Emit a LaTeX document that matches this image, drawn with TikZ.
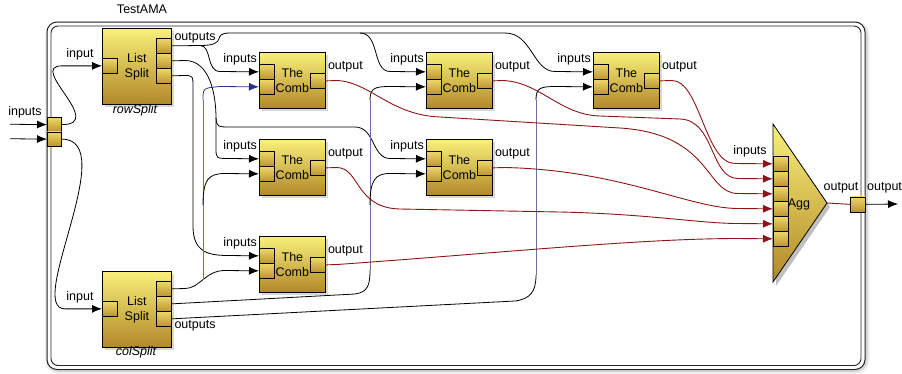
\documentclass[tikz,border=0pt]{standalone}
\usepackage{fontspec}
\setmainfont{Liberation Sans}
\usetikzlibrary{shadows,arrows.meta,calc}
\definecolor{blockTop}{RGB}{248,240,122}
\definecolor{blockBot}{RGB}{178,136,40}
\definecolor{portTop}{RGB}{238,216,104}
\definecolor{portBot}{RGB}{188,148,48}
\definecolor{wireRed}{RGB}{140,22,22}
\definecolor{navyWire}{RGB}{40,50,140}
\definecolor{vBlue}{RGB}{110,110,175}
\newcommand{\mkcomb}[3]{%
  \node[blockbox, minimum width=66pt, minimum height=56pt] (#1) at (#2,#3) {};
  \node[portbox, anchor=north west] (#1i1) at ([yshift=-12pt]#1.north west) {};
  \node[portbox, anchor=north west] (#1i2) at ([yshift=-27pt]#1.north west) {};
  \node[portbox, anchor=north east] (#1o) at ([yshift=-21pt]#1.north east) {};
  \node[txt, align=center] (#1t) at (#1.center) {The\\Comb};
  \node[txt, anchor=south east] (#1il) at ([xshift=-2pt,yshift=-13pt]#1.north west) {inputs};
  \node[txt, anchor=south west] (#1ol) at ([xshift=2pt,yshift=-20pt]#1.north east) {output};
}
\begin{document}
\begin{tikzpicture}[x=1pt,y=-1pt,
  txt/.style={inner sep=0pt, font=\fontsize{12.5}{15}\selectfont},
  itxt/.style={inner sep=0pt, font=\fontsize{12.5}{15}\selectfont\itshape},
  blockbox/.style={draw=black, line width=0.8pt, top color=blockTop, bottom color=blockBot,
    inner sep=0pt, anchor=north west,
    drop shadow={shadow xshift=2.5pt, shadow yshift=-3pt, opacity=0.3}},
  portbox/.style={draw=black, line width=0.7pt, top color=portTop, bottom color=portBot,
    minimum width=15pt, minimum height=15pt, inner sep=0pt},
  wire/.style={draw=black, line width=0.8pt},
  arr/.style={-{Latex[length=10pt,width=8pt]}},
  redwire/.style={draw=wireRed, line width=0.9pt, -{Latex[length=10pt,width=8pt]}},
  bluewire/.style={draw=navyWire, line width=0.8pt, -{Latex[length=10pt,width=8pt]}},
  vline/.style={draw=vBlue, line width=0.7pt},
]
\useasboundingbox (0,0) rectangle (902,373);
% frame with soft shadow
\draw[rounded corners=11pt, line width=6pt, black, opacity=0.06] (48,24) rectangle (866.5,371);
\draw[rounded corners=11pt, line width=3.5pt, black, opacity=0.10] (48,23.5) rectangle (866,370.5);
\filldraw[fill=white, draw=black!85, line width=1pt, rounded corners=10pt] (47,22) rectangle (865,369.5);
\draw[draw=black!85, line width=0.9pt, rounded corners=7pt] (51,26) rectangle (861,365.5);
\node[txt] (title) at (142,9) {TestAMA};

% outer input ports
\node[portbox, minimum width=14pt, minimum height=14.5pt, anchor=north west] (inP1) at (47,117) {};
\node[portbox, minimum width=14pt, minimum height=14.5pt, anchor=north west] (inP2) at (47,131.5) {};
\coordinate (ext1) at (10,124.25);
\coordinate (ext2) at (10,138.75);
\draw[wire,arr] (ext1) -- (inP1.west);
\draw[wire,arr] (ext2) -- (inP2.west);
\node[txt] (inlbl) at (25,112) {inputs};

% split blocks
\node[blockbox, minimum width=69pt, minimum height=76pt] (rowS) at (102,28) {};
\node[txt, align=center] (rowSt) at (rowS.center) {List\\Split};
\node[portbox, anchor=north west] (rsI) at ([yshift=-30pt]rowS.north west) {};
\node[portbox, anchor=north east] (rsO1) at ([yshift=-10pt]rowS.north east) {};
\node[portbox, anchor=north east] (rsO2) at ([yshift=-25pt]rowS.north east) {};
\node[portbox, anchor=north east] (rsO3) at ([yshift=-40pt]rowS.north east) {};
\node[txt] (rsIl) at (80,54) {input};
\node[txt] (rsOl) at (195,38) {outputs};
\node[itxt] (rsName) at (135,110) {rowSplit};

\node[blockbox, minimum width=69pt, minimum height=76pt] (colS) at (102,271) {};
\node[txt, align=center] (colSt) at (colS.center) {List\\Split};
\node[portbox, anchor=north west] (csI) at ([yshift=-30pt]colS.north west) {};
\node[portbox, anchor=north east] (csO1) at ([yshift=-10pt]colS.north east) {};
\node[portbox, anchor=north east] (csO2) at ([yshift=-25pt]colS.north east) {};
\node[portbox, anchor=north east] (csO3) at ([yshift=-40pt]colS.north east) {};
\node[txt] (csIl) at (80,297) {input};
\node[txt] (csOl) at (195,326) {outputs};
\node[itxt] (csName) at (136,352) {colSplit};

% comb blocks
\mkcomb{c11}{259}{52}
\mkcomb{c12}{426}{52}
\mkcomb{c13}{593}{52}
\mkcomb{c21}{259}{139}
\mkcomb{c22}{426}{139}
\mkcomb{c31}{259}{236}

% Agg
\fill[black, opacity=0.25] (776,128) -- (830,207) -- (776,286) -- cycle;
\shade[top color=blockTop, bottom color=blockBot, draw=black, line width=0.8pt] (773,124) -- (827,203) -- (773,282) -- cycle;
\coordinate (aggtip) at (827,203);
\foreach \k in {1,...,6} {
  \node[portbox, anchor=north west] (agg\k) at (773,{141+15*\k}) {};
}
\node[txt] (agglbl) at (799,204) {Agg};
\node[txt] (aggil) at (750,151) {inputs};
\node[txt] (aggol) at (841,188) {output};

% output port
\node[portbox, anchor=north west] (outP) at (850,196.5) {};
\coordinate (extOut) at (898,204);
\draw[draw=wireRed, line width=0.9pt] (aggtip) -- (outP.west);
\draw[wire,arr] (outP.east) -- (extOut);
\node[txt, anchor=south west] (outl) at (867,193) {output};

% outer inputs to splits
\draw[wire,arr] (inP1.east) .. controls +(45,0) and +(-35,0) .. ([xshift=-40pt]rsI.west) -- (rsI.west);
\draw[wire,arr] (inP2.east) .. controls +(60,0) and +(-40,0) .. ([xshift=-37pt]csI.west) -- (csI.west);

% rowSplit output 1
\coordinate (ra) at (200,45.5);
\draw[wire] (rsO1.east) -- (ra);
\draw[wire,arr] (ra) .. controls (212,45.5) and (206,71.5) .. (220,71.5) -- (c11i1.west);
\draw[wire] (ra) .. controls (230,45.5) and (210,33) .. (230,33) -- (505,33);
\draw[wire,arr] (360,33) .. controls (380,33) and (372,71.5) .. (390,71.5) -- (c12i1.west);
\draw[wire,arr] (505,33) .. controls (532,33) and (533,71.5) .. (555,71.5) -- (c13i1.west);

% rowSplit output 2
\coordinate (rb) at (216,118);
\draw[wire] (rsO2.east) -- (185,60.5) .. controls (210,60.5) and (216,95) .. (rb);
\draw[wire,arr] (rb) .. controls (217,127) .. (232,127) -- (355,127) .. controls (375,127) and (372,158.5) .. (390,158.5) -- (c22i1.west);
\draw[wire,arr] (rb) -- (216,148) .. controls (216,158.5) .. (230,158.5) -- (c21i1.west);

% rowSplit output 3
\draw[wire,arr] (rsO3.east) -- (184,75.5) .. controls (193,75.5) .. (193,88) -- (193,228) .. controls (194,250) and (205,255.5) .. (228,255.5) -- (c31i1.west);

% colSplit output 1
\coordinate (ca) at (203,279.5);
\draw[wire,arr] (csO1.east) -- (185,288.5) .. controls (200,288.5) and (205,270.5) .. (225,270.5) -- (c31i2.west);
\draw[vline] (ca) -- (203,100);
\draw[bluewire] (203,100) .. controls (203,88) .. (220,86.5) -- (c11i2.west);
\draw[wire,arr] (203,205) .. controls (203,180) and (208,173.5) .. (225,173.5) -- (c21i2.west);

% colSplit output 2
\coordinate (cb) at (370,270);
\draw[wire] (csO2.east) -- (355,294) .. controls (368,292) and (370,285) .. (cb);
\draw[vline] (cb) -- (370,100);
\draw[wire,arr] (370,100) .. controls (370,88) and (375,86.5) .. (390,86.5) -- (c12i2.west);
\draw[wire,arr] (370,205) .. controls (370,180) and (375,173.5) .. (390,173.5) -- (c22i2.west);

% colSplit output 3
\coordinate (cc) at (536,275);
\draw[wire] (csO3.east) -- (515,301) .. controls (530,299) and (536,292) .. (cc);
\draw[vline] (cc) -- (536,100);
\draw[wire,arr] (536,100) .. controls (536,88) and (540,86.5) .. (556,86.5) -- (c13i2.west);

% red outputs to Agg
\draw[redwire] (c13o.east) -- (672,80.5) .. controls (700,80.5) and (705,163.5) .. (735,163.5) -- (agg1.west);
\draw[redwire] (c12o.east) -- (503,80.5) .. controls (540,82) and (560,115) .. (600,116) -- (680,119) .. controls (715,120) and (710,178.5) .. (738,178.5) -- (agg2.west);
\draw[redwire] (c11o.east) -- (337,80.5) .. controls (370,82) and (390,115) .. (440,117) -- (620,128) .. controls (712,134) and (705,193.5) .. (738,193.5) -- (agg3.west);
\draw[redwire] (c22o.east) -- (505,167.5) .. controls (620,170) and (690,208.5) .. (738,208.5) -- (agg4.west);
\draw[redwire] (c21o.east) -- (337,167.5) .. controls (360,168) and (355,208) .. (400,209) -- (560,212) .. controls (650,214) and (700,223.5) .. (738,223.5) -- (agg5.west);
\draw[redwire] (c31o.east) -- (337,264.5) .. controls (500,253) and (640,238.5) .. (738,238.5) -- (agg6.west);
\end{tikzpicture}
\end{document}
